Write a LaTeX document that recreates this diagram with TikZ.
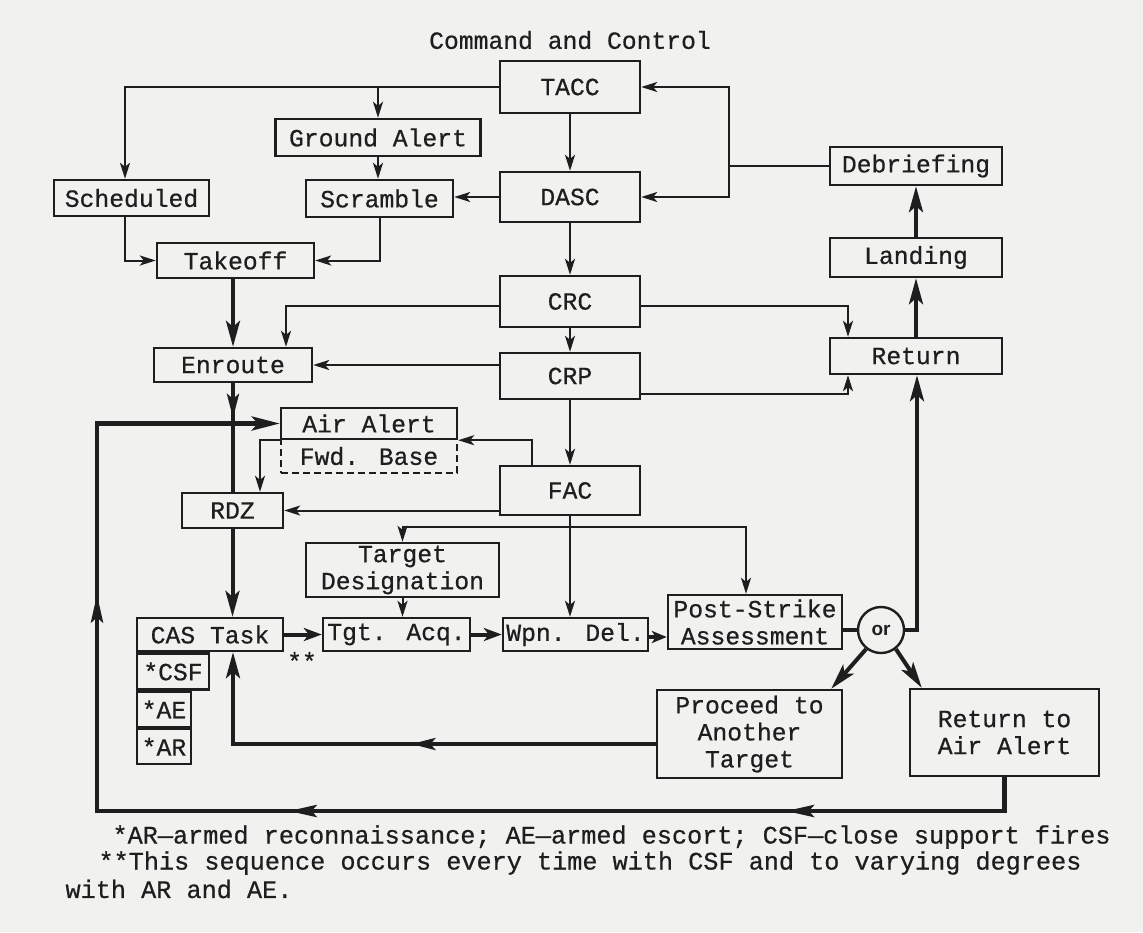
\documentclass[tikz,border=0pt]{standalone}
\usepackage{fontspec}
\setmainfont{Liberation Mono}[FakeBold=0.6]
\newfontfamily\orfont{Liberation Sans}
\usetikzlibrary{arrows.meta,decorations.markings}
\definecolor{ink}{HTML}{1E1E1E}
\definecolor{paper}{HTML}{F1F1EF}
\begin{document}
\begin{tikzpicture}[x=1pt,y=-1pt,
  every node/.style={text=ink, font=\fontsize{24.7}{27}\selectfont},
  box/.style={draw=ink, line width=2.4pt, inner sep=0pt, align=center},
  thinln/.style={draw=ink, line width=2pt},
  thickln/.style={draw=ink, line width=4pt},
  sa/.style={-{Stealth[length=16pt,width=10pt,inset=4pt]}},
  ma/.style={-{Stealth[length=18pt,width=13pt,inset=5pt]}},
  ba/.style={-{Stealth[length=26pt,width=14pt,inset=6pt]}},
  midmark/.style={postaction={decorate, decoration={markings,
     mark=at position #1 with {\arrow{Stealth[length=24pt,width=12pt,inset=5pt]}}}}},
  loopmarks/.style={postaction={decorate, decoration={markings,
     mark=at position 0.167 with {\arrow{Stealth[length=28pt,width=12pt,inset=5pt]}},
     mark=at position 0.496 with {\arrow{Stealth[length=28pt,width=12pt,inset=5pt]}},
     mark=at position 0.766 with {\arrow{Stealth[length=28pt,width=12pt,inset=5pt]}}}}},
]
\fill[paper] (0,0) rectangle (1143,932);
\useasboundingbox (0,0) rectangle (1143,932);

% ---- nodes
\node (title) at (570,40) {Command and Control};
\node[box, minimum width=140, minimum height=52] (tacc) at (570,87) {TACC};
\node[box, minimum width=140, minimum height=50] (dasc) at (570,197) {DASC};
\node[box, minimum width=140, minimum height=51] (crc) at (570,301.5) {CRC};
\node[box, minimum width=140, minimum height=46] (crp) at (570,376) {CRP};
\node[box, minimum width=140, minimum height=49] (fac) at (570,490.5) {FAC};

\node[box, minimum width=205, minimum height=37] (ga) at (378,137.5) {Ground Alert};
\node[box, minimum width=155, minimum height=36] (sched) at (131.5,198) {Scheduled};
\node[box, minimum width=147, minimum height=37] (scr) at (379.5,198.5) {Scramble};
\node[box, minimum width=157, minimum height=35] (takeoff) at (235.5,260.5) {Takeoff};
\node[box, minimum width=158, minimum height=34] (enroute) at (233,365) {Enroute};

\node[box, dash pattern=on 7pt off 4pt, minimum width=176, minimum height=34] (fb) at (369,456) {Fwd. Base};
\node[box, fill=paper, minimum width=176, minimum height=31] (aa) at (369,423.5) {Air Alert};
\node[box, minimum width=101, minimum height=35] (rdz) at (232.5,510.5) {RDZ};
\node[box, minimum width=193, minimum height=54] (td) at (402.5,570) {Target\\Designation};

\node[box, minimum width=146, minimum height=33] (cas) at (210,634.5) {CAS Task};
\node[box, anchor=north west, minimum width=72, minimum height=36] (csf) at (cas.south west) {*CSF};
\node[box, anchor=north west, minimum width=54, minimum height=35] (ae) at (csf.south west) {*AE};
\node[box, anchor=north west, minimum width=54, minimum height=35] (ar) at (ae.south west) {*AR};
\node (stars) at (302,661) {**};
\node[box, minimum width=147, minimum height=33] (tgt) at (396.5,634.5) {Tgt. Acq.};
\node[box, minimum width=145, minimum height=33] (wpn) at (575.5,634.5) {Wpn. Del.};
\node[box, minimum width=174, minimum height=54] (psa) at (755,622) {Post-Strike\\Assessment};
\node[draw=ink, line width=2.4pt, circle, minimum size=46, inner sep=0pt,
      font=\orfont\bfseries\fontsize{19}{20}\selectfont] (or) at (881,630) {or};
\node[box, minimum width=185, minimum height=88] (pro) at (749.5,734) {Proceed to\\Another\\Target};
\node[box, minimum width=189, minimum height=87] (rtaa) at (1004.5,732.5) {Return to\\Air Alert};

\node[box, minimum width=172, minimum height=36] (ret) at (916,356) {Return};
\node[box, minimum width=172, minimum height=39] (land) at (916,257.5) {Landing};
\node[box, minimum width=172, minimum height=38] (deb) at (916,166) {Debriefing};

\coordinate (loopL) at (97,811);

\node[anchor=west, font=\fontsize{25.2}{27}\selectfont] (fn1) at (109,837) {*AR—armed reconnaissance; AE—armed escort; CSF—close support fires};
\node[anchor=west, font=\fontsize{25.2}{27}\selectfont] (fn2) at (95,863) {**This sequence occurs every time with CSF and to varying degrees};
\node[anchor=west, font=\fontsize{25.2}{27}\selectfont] (fn3) at (62,889) {with AR and AE.};

% ---- thin control connectors
\draw[thinln, sa] (tacc.west) -| ([xshift=-6.5]sched.north);
\draw[thinln, sa] (ga.north |- tacc.west) -- (ga.north);
\draw[thinln, sa] (ga.south) -- (ga.south |- scr.north);
\draw[thinln, sa] (dasc.west) -- (dasc.west -| scr.east);
\draw[thinln, sa] ([xshift=-6.5]sched.south) |- (takeoff.west);
\draw[thinln, sa] (scr.south) |- (takeoff.east);
\draw[thinln, sa] (tacc.south) -- (dasc.north);
\draw[thinln, sa] (dasc.south) -- (crc.north);
\draw[thinln, sa] (crc.south) -- (crp.north);
\draw[thinln, sa] (crp.south) -- (fac.north);
\draw[thinln, sa] ([yshift=-4.5]crc.west) -| ([xshift=53]enroute.north);
\draw[thinln, sa] (crp.west |- enroute.east) -- (enroute.east);
\draw[thinln, sa] ([yshift=-4.5]crc.east) -| ([xshift=-68]ret.north);
\draw[thinln, sa] ([yshift=-18]crp.east) -| ([xshift=-68]ret.south);
\draw[thinln, sa] (deb.west) -| ([xshift=88]tacc.east) -- (tacc.east);
\draw[thinln, sa] ([xshift=88]tacc.east) |- (dasc.east);
\draw[thinln, sa] (aa.south west) -| ([xshift=27.5]rdz.north);
\draw[thinln, sa] ([xshift=-38]fac.north) |- (aa.south east);
\draw[thinln, sa] (fac.west |- rdz.east) -- (rdz.east);
\draw[thinln, sa] (fac.south) -- (fac.south |- wpn.north);
\draw[thinln, sa] ([yshift=-11]fac.south) -| (td.north);
\draw[thinln, sa] ([yshift=-11]fac.south) -| ([xshift=-9]psa.north);
\draw[thinln, sa] (td.south) -- (td.south |- tgt.north);

% ---- thick flow connectors
\draw[thickln, ba] (takeoff.south -| enroute.north) -- (enroute.north);
\draw[thickln, midmark=0.32] (enroute.south) -- (enroute.south |- rdz.north);
\draw[thickln, ba] (rdz.south) -- (rdz.south |- cas.north);
\draw[thickln, ma] (cas.east) -- (tgt.west);
\draw[thickln, ma] (tgt.east) -- (wpn.west);
\draw[thickln, -{Stealth[length=15pt,width=12pt,inset=4pt]}] ([yshift=-2.5]wpn.east) -- ([yshift=-2.5]wpn.east -| psa.west);
\draw[thickln] (psa.east |- or.west) -- (or.west);
\draw[thickln, ba] (or.east) -| ([xshift=1]ret.south);
\draw[thickln, ba] (or.-128) -- ([xshift=-12]pro.north east);
\draw[thickln, ba] (or.-52) -- ([xshift=13]rtaa.north west);
\draw[thickln, ba] (ret.north) -- (land.south);
\draw[thickln, ba] (land.north) -- (deb.south);
\draw[thickln, ba, midmark=0.475] ([yshift=-10]pro.west) -| ([xshift=23]cas.south);
\draw[thickln, line width=4.5pt, -{Stealth[length=28pt,width=14pt,inset=6pt]}, loopmarks] (rtaa.south) |- (loopL) |- (aa.west);
\end{tikzpicture}
\end{document}
